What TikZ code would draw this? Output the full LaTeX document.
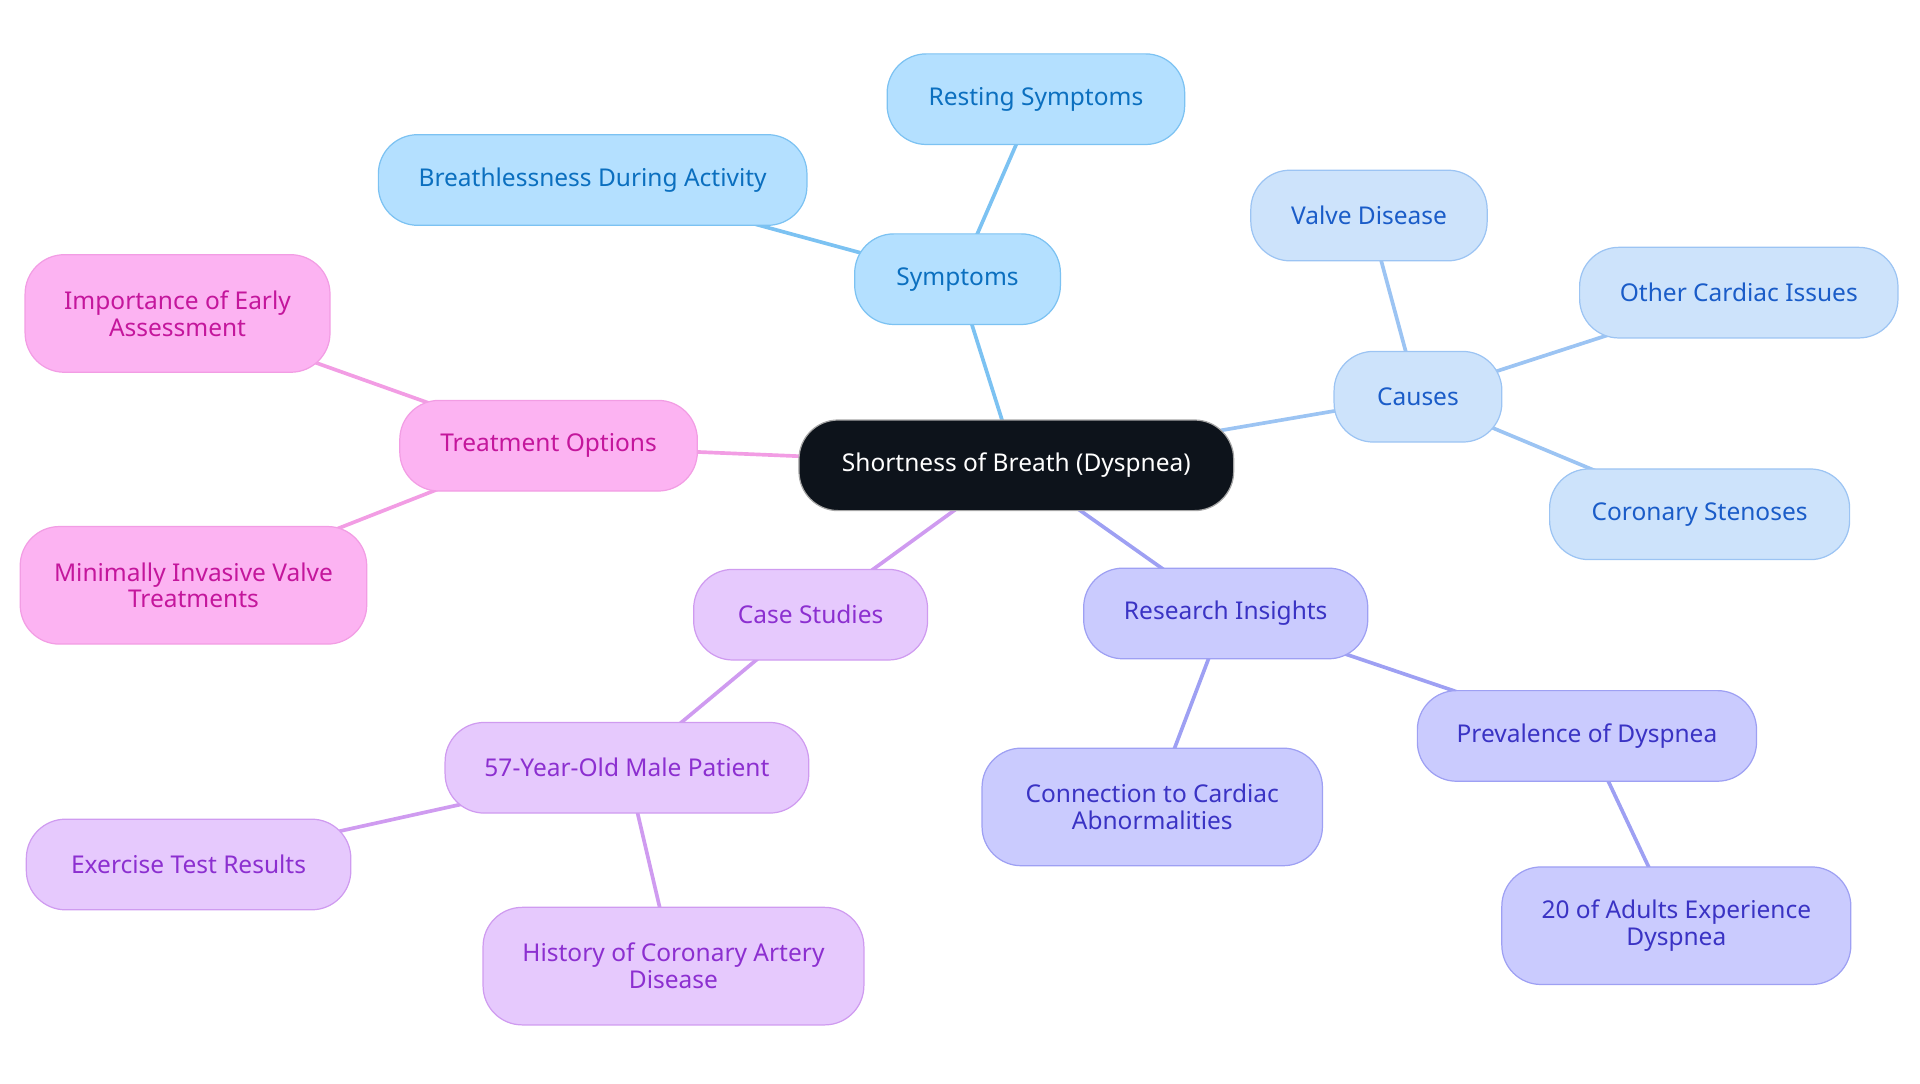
\documentclass[tikz,border=0pt]{standalone}
\usepackage{fontspec}
\setmainfont{Noto Sans}
\usetikzlibrary{backgrounds}

\definecolor{rootfill}{HTML}{0D131B}
\definecolor{symfill}{HTML}{B4E0FF}
\definecolor{symline}{HTML}{7CC2F2}
\definecolor{symtext}{HTML}{0B6FBF}
\definecolor{caufill}{HTML}{CDE3FB}
\definecolor{cauline}{HTML}{9CC4F3}
\definecolor{cautext}{HTML}{1A5CC8}
\definecolor{resfill}{HTML}{CACBFE}
\definecolor{resline}{HTML}{9EA0F3}
\definecolor{restext}{HTML}{3A33C4}
\definecolor{casfill}{HTML}{E6C9FD}
\definecolor{casline}{HTML}{CF9BF0}
\definecolor{castext}{HTML}{8C2FD0}
\definecolor{trefill}{HTML}{FCB3F2}
\definecolor{treline}{HTML}{F29DE4}
\definecolor{tretext}{HTML}{C4169C}

\tikzset{
  pill/.style={draw, line width=1pt, rounded corners=32pt, minimum height=74pt,
    align=center, font=\fontsize{20}{22}\selectfont},
  tall/.style={minimum height=96pt},
  root/.style={pill, fill=rootfill, draw=gray!70, text=white},
  symnode/.style={pill, fill=symfill, draw=symline, text=symtext},
  caunode/.style={pill, fill=caufill, draw=cauline, text=cautext},
  resnode/.style={pill, fill=resfill, draw=resline, text=restext},
  casnode/.style={pill, fill=casfill, draw=casline, text=castext},
  trenode/.style={pill, fill=trefill, draw=treline, text=tretext},
  link/.style={line width=3pt}
}

\begin{document}
\begin{tikzpicture}[x=1pt, y=-1pt]
    \useasboundingbox (0,0) rectangle (1568,885);

    % root
    \node[root, minimum width=355pt] (dysp) at (830,380) {Shortness of Breath (Dyspnea)};

    % symptoms
    \node[symnode, minimum width=168pt] (symp) at (782,228) {Symptoms};
    \node[symnode, minimum width=243pt] (rest) at (846,81) {Resting Symptoms};
    \node[symnode, minimum width=350pt] (activ) at (484,147) {Breathlessness During Activity};

    % causes
    \node[caunode, minimum width=137pt] (caus) at (1158,324) {Causes};
    \node[caunode, minimum width=193pt] (valve) at (1118,176) {Valve Disease};
    \node[caunode, minimum width=260pt] (other) at (1420,239) {Other Cardiac Issues};
    \node[caunode, minimum width=245pt] (steno) at (1388,420) {Coronary Stenoses};

    % research
    \node[resnode, minimum width=232pt] (resin) at (1001,501) {Research Insights};
    \node[resnode, minimum width=277pt] (preval) at (1296,601) {Prevalence of Dyspnea};
    \node[resnode, tall, minimum width=285pt] (adults) at (1369,756) {20 of Adults Experience\\Dyspnea};
    \node[resnode, tall, minimum width=278pt] (abnorm) at (941,659) {Connection to Cardiac\\Abnormalities};

    % case studies
    \node[casnode, minimum width=191pt] (cases) at (662,502) {Case Studies};
    \node[casnode, minimum width=297pt] (male) at (512,627) {57-Year-Old Male Patient};
    \node[casnode, minimum width=265pt] (exer) at (154,706) {Exercise Test Results};
    \node[casnode, tall, minimum width=311pt] (hist) at (550,789) {History of Coronary Artery\\Disease};

    % treatment
    \node[trenode, minimum width=243pt] (treat) at (448,364) {Treatment Options};
    \node[trenode, tall, minimum width=249pt] (early) at (145,256) {Importance of Early\\Assessment};
    \node[trenode, tall, minimum width=283pt] (valvtr) at (158,478) {Minimally Invasive Valve\\Treatments};

    % connectors behind the nodes
    \begin{pgfonlayer}{background}
      \draw[link, symline] (dysp.center) -- (symp.center);
      \draw[link, symline] (symp.center) -- (rest.center);
      \draw[link, symline] (symp.center) -- (activ.center);
      \draw[link, cauline] (dysp.center) -- (caus.center);
      \draw[link, cauline] (caus.center) -- (valve.center);
      \draw[link, cauline] (caus.center) -- (other.center);
      \draw[link, cauline] (caus.center) -- (steno.center);
      \draw[link, resline] (dysp.center) -- (resin.center);
      \draw[link, resline] (resin.center) -- (preval.center);
      \draw[link, resline] (preval.center) -- (adults.center);
      \draw[link, resline] (resin.center) -- (abnorm.center);
      \draw[link, casline] (dysp.center) -- (cases.center);
      \draw[link, casline] (cases.center) -- (male.center);
      \draw[link, casline] (male.center) -- (exer.center);
      \draw[link, casline] (male.center) -- (hist.center);
      \draw[link, treline] (dysp.center) -- (treat.center);
      \draw[link, treline] (treat.center) -- (early.center);
      \draw[link, treline] (treat.center) -- (valvtr.center);
    \end{pgfonlayer}
\end{tikzpicture}
\end{document}
